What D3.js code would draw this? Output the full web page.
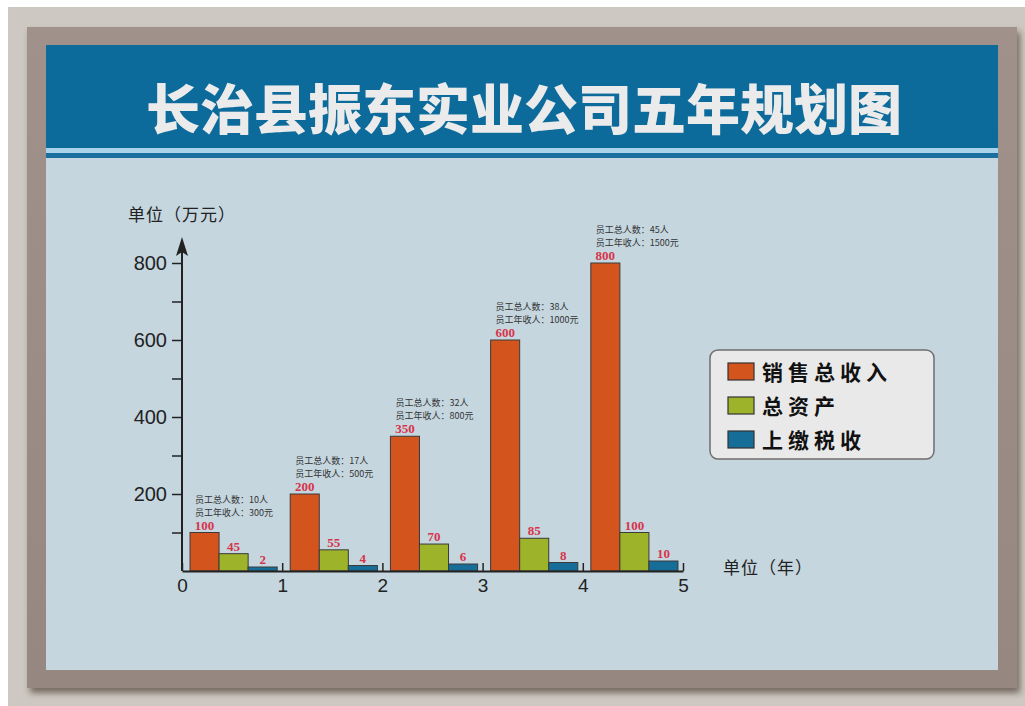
<!DOCTYPE html>
<html>
<head>
<meta charset="utf-8">
<script src="https://cdn.jsdelivr.net/npm/d3@7"></script>
<style>
  body { margin: 0; background: #cdc8c2; }
  svg { display: block; }
</style>
</head>
<body>
<svg id="chart"></svg>
<script>
const TITLE = "长治县振东实业公司五年规划图";
const YEARS = [0, 1, 2, 3, 4, 5];
const SERIES = ["销售总收入", "总资产", "上缴税收"];
const SALES = [100, 200, 350, 600, 800];
const ASSETS = [45, 55, 70, 85, 100];
const TAX = [2, 4, 6, 8, 10];
const STAFF = [10, 17, 32, 38, 45];
const WAGE = [300, 500, 800, 1000, 1500];
const Y_TICKS = [100, 200, 300, 400, 500, 600, 700, 800];
const Y_LABELS = [200, 400, 600, 800];

const WIDTH = 1025, HEIGHT = 706;
const COLOURS = ["#d4541d", "#9db42a", "#166d98"];
const FONT_CJK = "'Noto Sans CJK SC', 'Noto Sans', sans-serif";
const FONT_NUM = "'Liberation Sans', Arial, sans-serif";

const svg = d3.select("#chart")
    .attr("width", WIDTH)
    .attr("height", HEIGHT);

// shadow under the board
const defs = svg.append("defs");
const shadow = defs.append("filter").attr("id", "shadow")
    .attr("x", "-5%").attr("y", "-5%").attr("width", "110%").attr("height", "115%");
shadow.append("feDropShadow")
    .attr("dx", 3).attr("dy", 5).attr("stdDeviation", 3)
    .attr("flood-color", "#3a2a22").attr("flood-opacity", 0.6);

const frameGrad = defs.append("linearGradient").attr("id", "frameGrad")
    .attr("x1", 0).attr("y1", 0).attr("x2", 0).attr("y2", 1);
frameGrad.append("stop").attr("offset", "0%").attr("stop-color", "#a0928b");
frameGrad.append("stop").attr("offset", "100%").attr("stop-color", "#968880");

// wall
svg.append("rect").attr("width", WIDTH).attr("height", HEIGHT).attr("fill", "#cdc8c2");
svg.append("rect").attr("width", WIDTH).attr("height", 7).attr("fill", "#ffffff");
svg.append("rect").attr("width", 8).attr("height", HEIGHT).attr("fill", "#ffffff");

// board frame + panel
svg.append("rect")
    .attr("x", 27).attr("y", 27).attr("width", 990).attr("height", 661)
    .attr("fill", "url(#frameGrad)")
    .attr("filter", "url(#shadow)");
svg.append("rect")
    .attr("x", 46).attr("y", 45).attr("width", 952).attr("height", 625)
    .attr("fill", "#c5d6df");

// header band
svg.append("rect")
    .attr("x", 46).attr("y", 45).attr("width", 952).attr("height", 103)
    .attr("fill", "#0c6b9b");
svg.append("rect")
    .attr("x", 46).attr("y", 148).attr("width", 952).attr("height", 5)
    .attr("fill", "#a9d3e8");
svg.append("rect")
    .attr("x", 46).attr("y", 153).attr("width", 952).attr("height", 5)
    .attr("fill", "#1a6f9e");

svg.append("text")
    .attr("x", 524).attr("y", 130)
    .attr("text-anchor", "middle")
    .attr("font-family", FONT_CJK)
    .attr("font-weight", 900)
    .attr("font-size", 54)
    .attr("fill", "#ebebeb")
    .text(TITLE);

// scales
const x = d3.scaleLinear().domain([0, 5]).range([182, 683]);
const y = d3.scaleLinear().domain([0, 800]).range([571, 263]);
// the tax bars are drawn exaggerated in the source picture
const taxHeight = d3.scaleLinear().domain([2, 10]).range([4, 10]);

const BAR_OFFSET = 0.08, BAR_W = 0.29;
const barWidth = x(BAR_W) - x(0);

const chart = svg.append("g");

// bars
const groups = chart.selectAll("g.year")
    .data(SALES.map((s, i) => ({ i: i, values: [s, ASSETS[i], TAX[i]] })))
    .join("g")
    .attr("class", "year");

groups.each(function (d) {
    const g = d3.select(this);
    d.values.forEach((v, k) => {
        const left = x(d.i + BAR_OFFSET + k * BAR_W);
        const top = k === 2 ? y(0) - taxHeight(v) : y(v);
        g.append("rect")
            .attr("x", left)
            .attr("y", top)
            .attr("width", barWidth)
            .attr("height", y(0) - top)
            .attr("fill", COLOURS[k])
            .attr("stroke", "#3a3a3a")
            .attr("stroke-width", 1);
        g.append("text")
            .attr("x", left + barWidth / 2)
            .attr("y", top - 3)
            .attr("text-anchor", "middle")
            .attr("font-family", "'Liberation Serif', 'DejaVu Serif', serif")
            .attr("font-weight", "bold")
            .attr("font-size", 13)
            .attr("fill", "#d8334a")
            .text(v);
    });

    // staff notes above the sales bar
    const noteX = x(d.i + BAR_OFFSET) + 5;
    const barTop = y(d.values[0]);
    g.append("text")
        .attr("x", noteX).attr("y", barTop - 30)
        .attr("font-family", FONT_CJK)
        .attr("font-size", 9)
        .attr("fill", "#333")
        .text("员工总人数：" + STAFF[d.i] + "人");
    g.append("text")
        .attr("x", noteX).attr("y", barTop - 17)
        .attr("font-family", FONT_CJK)
        .attr("font-size", 9)
        .attr("fill", "#333")
        .text("员工年收人：" + WAGE[d.i] + "元");
});

// y axis
const yAxis = chart.append("g")
    .attr("transform", `translate(${x(0)},0)`)
    .call(d3.axisLeft(y)
        .tickValues(Y_TICKS)
        .tickSize(10)
        .tickSizeOuter(0)
        .tickPadding(5)
        .tickFormat(v => Y_LABELS.includes(v) ? v : ""));
yAxis.select(".domain").remove();
yAxis.selectAll(".tick line").attr("stroke", "#222").attr("stroke-width", 1.5);
yAxis.selectAll(".tick text")
    .attr("font-family", FONT_NUM)
    .attr("font-size", 20)
    .attr("fill", "#222");

chart.append("line")
    .attr("x1", x(0)).attr("x2", x(0))
    .attr("y1", y(0)).attr("y2", 252)
    .attr("stroke", "#222").attr("stroke-width", 2);
chart.append("path")
    .attr("d", `M${x(0)},237 L${x(0) + 6},256 L${x(0)},252 L${x(0) - 6},256 Z`)
    .attr("fill", "#222");

// x axis
const xAxis = chart.append("g")
    .attr("transform", `translate(0,${y(0)})`)
    .call(d3.axisBottom(x)
        .tickValues(YEARS)
        .tickSize(-8)
        .tickSizeOuter(0)
        .tickPadding(8)
        .tickFormat(d3.format("d")));
xAxis.select(".domain").attr("stroke", "#222").attr("stroke-width", 2);
xAxis.selectAll(".tick line").attr("stroke", "#222").attr("stroke-width", 1.5);
xAxis.selectAll(".tick text")
    .attr("font-family", FONT_NUM)
    .attr("font-size", 19)
    .attr("fill", "#222");

// unit labels
chart.append("text")
    .attr("x", 128).attr("y", 221)
    .attr("font-family", FONT_CJK)
    .attr("font-size", 17)
    .attr("letter-spacing", 1)
    .attr("fill", "#222")
    .text("单位（万元）");
chart.append("text")
    .attr("x", 723).attr("y", 574)
    .attr("font-family", FONT_CJK)
    .attr("font-size", 17)
    .attr("letter-spacing", 1)
    .attr("fill", "#222")
    .text("单位（年）");

// legend
const legend = svg.append("g").attr("transform", "translate(710,350)");
legend.append("rect")
    .attr("width", 224).attr("height", 109)
    .attr("rx", 8).attr("ry", 8)
    .attr("fill", "#e9e9e9")
    .attr("stroke", "#6e6e6e")
    .attr("stroke-width", 1.5);
const items = legend.selectAll("g.item")
    .data(SERIES)
    .join("g")
    .attr("class", "item")
    .attr("transform", (d, i) => `translate(18,${22 + i * 34})`);
items.append("rect")
    .attr("x", 0).attr("y", -9)
    .attr("width", 26).attr("height", 17)
    .attr("fill", (d, i) => COLOURS[i])
    .attr("stroke", "#333")
    .attr("stroke-width", 1.2);
items.append("text")
    .attr("x", 34).attr("y", 8)
    .attr("font-family", FONT_CJK)
    .attr("font-weight", 700)
    .attr("font-size", 21)
    .attr("letter-spacing", 5)
    .attr("fill", "#111")
    .text(d => d);
</script>
</body>
</html>
